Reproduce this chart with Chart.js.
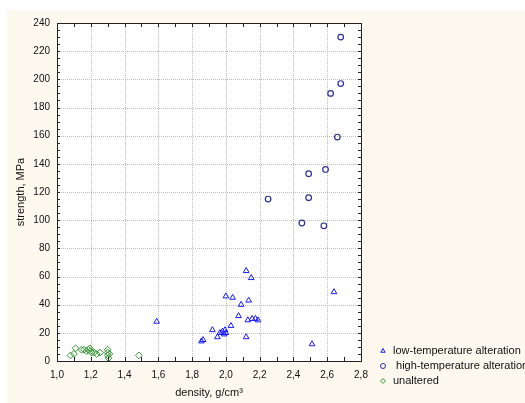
<!DOCTYPE html>
<html>
<head>
<meta charset="utf-8">
<script src="https://cdn.jsdelivr.net/npm/chart.js@4.4.0/dist/chart.umd.min.js"></script>
<style>
  html, body { margin: 0; padding: 0; background: #fff; width: 525px; height: 403px; overflow: hidden; }
  #wrap { position: absolute; left: 7px; top: 10px; width: 518px; height: 393px; }
</style>
</head>
<body>
<div id="wrap"><canvas id="chart" width="518" height="393"></canvas></div>
<script>
// data
const lowTempDensity  = [1.59, 1.855, 1.865, 1.92, 1.95, 1.965, 1.98, 1.995, 2.0, 1.99, 2.0, 2.04, 2.03, 2.075, 2.09, 2.12, 2.15, 2.135, 2.12, 2.13, 2.155, 2.175, 2.19, 2.51, 2.64];
const lowTempStrength = [28, 14, 15, 22, 17, 20, 21, 22, 20, 19, 46, 45, 25, 32, 40, 64, 59, 43, 17, 29, 30, 30, 29, 12, 49];

const highTempDensity  = [2.25, 2.45, 2.49, 2.49, 2.58, 2.59, 2.62, 2.66, 2.68, 2.68];
const highTempStrength = [115, 98, 116, 133, 96, 136, 190, 159, 197, 230];

const unalteredDensity  = [1.08, 1.10, 1.11, 1.145, 1.16, 1.175, 1.185, 1.195, 1.20, 1.205, 1.22, 1.235, 1.255, 1.30, 1.30, 1.31, 1.30, 1.305, 1.485];
const unalteredStrength = [4, 5, 9, 8, 8, 7, 8, 9, 7, 6, 6, 5, 6, 8, 6, 5, 4, 2, 4];

const seriesLabels = ['low-temperature alteration', ' high-temperature alteration', 'unaltered'];

function toPoints(xs, ys) {
  return xs.map((x, i) => ({ x: x, y: ys[i] }));
}

const FAMILY = 'Liberation Sans, Arial, sans-serif';
const TICK_FONT = { family: FAMILY, size: 10 };
const TITLE_FONT = { family: FAMILY, size: 11 };

// background, grid, frame, inward ticks and legend
const decor = {
  id: 'decor',
  beforeDraw(chart) {
    const { ctx, chartArea: a } = chart;
    ctx.save();
    ctx.fillStyle = '#fdf9ef';
    ctx.fillRect(0, 0, chart.width, chart.height);
    ctx.fillStyle = '#ffffff';
    ctx.fillRect(a.left, a.top, a.right - a.left, a.bottom - a.top);
    ctx.restore();
  },
  beforeDatasetsDraw(chart) {
    const { ctx, chartArea: a, scales } = chart;
    const xs = scales.x, ys = scales.y;
    ctx.save();
    ctx.strokeStyle = '#bdbdbd';
    ctx.lineWidth = 1;
    ctx.setLineDash([1, 1]);
    xs.ticks.forEach(t => {
      const px = Math.round(xs.getPixelForValue(t.value)) + 0.5;
      ctx.beginPath(); ctx.moveTo(px, a.top); ctx.lineTo(px, a.bottom); ctx.stroke();
    });
    ys.ticks.forEach(t => {
      const py = Math.round(ys.getPixelForValue(t.value)) + 0.5;
      ctx.beginPath(); ctx.moveTo(a.left, py); ctx.lineTo(a.right, py); ctx.stroke();
    });
    ctx.restore();
  },
  afterDatasetsDraw(chart) {
    const { ctx, chartArea: a, scales } = chart;
    const xs = scales.x, ys = scales.y;
    ctx.save();
    ctx.strokeStyle = '#222';
    ctx.lineWidth = 1;
    ctx.beginPath();
    // small inward ticks every 0.1 on x and every 5 on y
    for (let v = 1.0; v <= 2.8001; v += 0.1) {
      const px = Math.round(xs.getPixelForValue(v)) + 0.5;
      ctx.moveTo(px, a.top); ctx.lineTo(px, a.top + 4);
      ctx.moveTo(px, a.bottom); ctx.lineTo(px, a.bottom - 4);
    }
    for (let v = 0; v <= 240; v += 5) {
      const py = Math.round(ys.getPixelForValue(v)) + 0.5;
      ctx.moveTo(a.left, py); ctx.lineTo(a.left + 3, py);
      ctx.moveTo(a.right, py); ctx.lineTo(a.right - 3, py);
    }
    ctx.stroke();
    ctx.strokeRect(Math.round(a.left) + 0.5, Math.round(a.top) + 0.5,
                   Math.round(a.right - a.left), Math.round(a.bottom - a.top));

    // legend
    ctx.font = TITLE_FONT.size + 'px ' + FAMILY;
    ctx.textBaseline = 'middle';
    chart.data.datasets.forEach((ds, i) => {
      const y = 341 + i * 15;
      ctx.strokeStyle = ds.borderColor;
      ctx.fillStyle = 'rgba(0,0,0,0)';
      ctx.lineWidth = 1;
      Chart.helpers.drawPoint(ctx, { pointStyle: ds.pointStyle, radius: 2.5, rotation: 0, borderWidth: 1 }, 376, y);
      ctx.fillStyle = '#111';
      ctx.fillText(ds.label, 386, y);
    });
    ctx.restore();
  }
};

new Chart(document.getElementById('chart'), {
  type: 'scatter',
  data: {
    datasets: [
      { label: seriesLabels[0], data: toPoints(lowTempDensity, lowTempStrength),
        pointStyle: 'triangle', radius: 3.3, borderColor: '#1a1aff', backgroundColor: 'rgba(0,0,0,0)', borderWidth: 1 },
      { label: seriesLabels[1], data: toPoints(highTempDensity, highTempStrength),
        pointStyle: 'circle', radius: 2.8, borderColor: '#2e2e96', backgroundColor: 'rgba(0,0,0,0)', borderWidth: 1.2 },
      { label: seriesLabels[2], data: toPoints(unalteredDensity, unalteredStrength),
        pointStyle: 'rectRot', radius: 3.4, borderColor: '#3a9a3a', backgroundColor: 'rgba(0,0,0,0)', borderWidth: 1 }
    ]
  },
  options: {
    responsive: false,
    animation: false,
    layout: { padding: { top: 13, right: 164, left: 0, bottom: 0 } },
    plugins: { legend: { display: false }, tooltip: { enabled: false } },
    scales: {
      x: {
        type: 'linear', min: 1.0, max: 2.8,
        grid: { display: false, drawTicks: false },
        border: { display: false },
        ticks: { stepSize: 0.2, padding: 8, color: '#111', font: TICK_FONT,
                 callback: v => v.toFixed(1).replace('.', ',') },
        title: { display: true, text: 'density, g/cm³', color: '#111', font: TITLE_FONT, padding: { top: 4, bottom: 3 } },
        afterFit: s => { s.height = 42; }
      },
      y: {
        type: 'linear', min: 0, max: 240,
        grid: { display: false, drawTicks: false },
        border: { display: false },
        ticks: { stepSize: 20, padding: 7, color: '#111', font: TICK_FONT },
        title: { display: true, text: 'strength, MPa', color: '#111', font: TITLE_FONT, padding: { top: 7, bottom: 0 } },
        afterFit: s => { s.width = 50; }
      }
    }
  },
  plugins: [decor]
});
</script>
</body>
</html>
